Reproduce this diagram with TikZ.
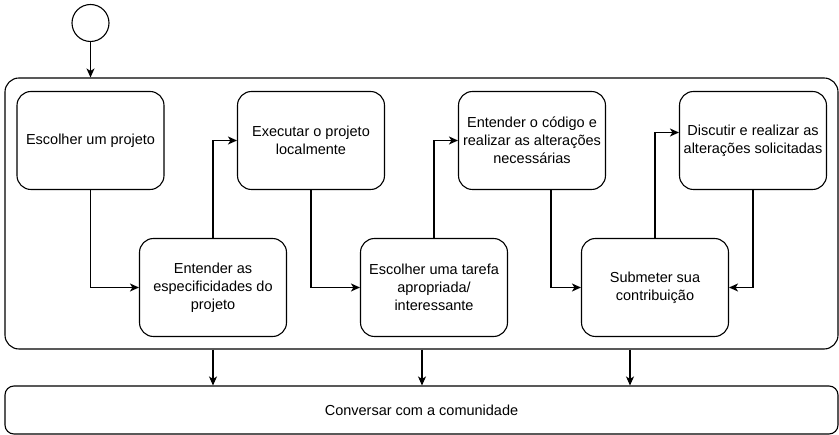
\documentclass[tikz,border=0pt]{standalone}
\usepackage{fontspec}
\setmainfont{Liberation Sans}
\usetikzlibrary{arrows.meta}
\begin{document}
\begin{tikzpicture}[x=1pt,y=-1pt,
  line width=1.1pt,
  >={Stealth[length=9pt,width=8pt,inset=2.5pt]},
  every node/.style={font=\fontsize{14.5}{18}\selectfont},
  stepbox/.style={draw, fill=white, rounded corners=14pt, align=center,
    minimum width=147pt, minimum height=98pt, inner sep=2pt},
  frame/.style={draw, rounded corners=14pt, minimum width=833pt, minimum height=271pt, inner sep=0pt},
  talkbar/.style={draw, rounded corners=9pt, minimum width=833pt, minimum height=48pt, inner sep=0pt},
  flow/.style={->}]
\useasboundingbox (0,0) rectangle (839,435);

% start state
\node[draw, circle, minimum size=37pt, inner sep=0pt] (start) at (90.5,23) {};

% surrounding frame and community bar
\node[frame] (outer) at (421.5,213.5) {};
\node[talkbar] (talk) at (421.5,410) {Conversar com a comunidade};

% steps
\node[stepbox] (b1) at (90.5,140.5) {Escolher um projeto};
\node[stepbox] (b2) at (311,140.5) {Executar o projeto\\localmente};
\node[stepbox] (b3) at (213,287.5) {Entender as\\especificidades do\\projeto};
\node[stepbox] (b4) at (434,287.5) {Escolher uma tarefa\\apropriada/\\interessante};
\node[stepbox] (b5) at (532,140.5) {Entender o código e\\realizar as alterações\\necessárias};
\node[stepbox] (b6) at (753,140.5) {Discutir e realizar as\\alterações solicitadas};
\node[stepbox] (b7) at (655,287.5) {Submeter sua\\contribuição};

% connectors
\draw[flow] (start.south) -- (start.south |- outer.north);
\draw[flow] (b1.south) |- (b3.west);
\draw[flow] (b3.north) |- (b2.west);
\draw[flow] (b2.south) |- (b4.west);
\draw[flow] (b4.north) |- (b5.west);
\draw[flow] ([xshift=19pt]b5.south) |- (b7.west);
\draw[flow] (b7.north) |- ([yshift=8pt]b6.west);
\draw[flow] (b6.south) |- (b7.east);

% links from the frame to the community bar
\coordinate (d1) at (213,0);
\coordinate (d2) at (422,0);
\coordinate (d3) at (630,0);
\draw[flow] (outer.south -| d1) -- (talk.north -| d1);
\draw[flow] (outer.south -| d2) -- (talk.north -| d2);
\draw[flow] (outer.south -| d3) -- (talk.north -| d3);
\end{tikzpicture}
\end{document}
